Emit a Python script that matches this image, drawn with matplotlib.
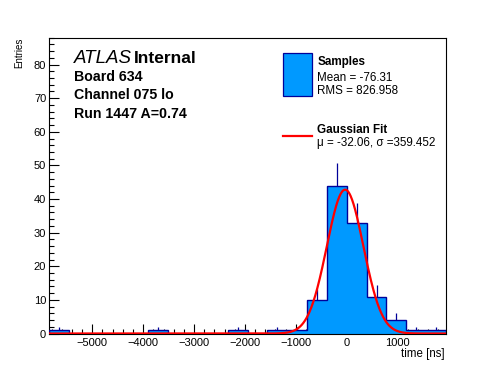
import numpy as np
import matplotlib
matplotlib.use("Agg")
import matplotlib.pyplot as plt
from matplotlib.ticker import MultipleLocator

plt.rcParams['font.family'] = ['Liberation Sans', 'DejaVu Sans']

# histogram: 20 bins of 390 ns from -5850 to 1950
bin_edges = np.arange(-5850, 1951, 390)
counts = [1, 0, 0, 0, 0, 1, 0, 0, 0, 1, 0, 1, 1, 10, 44, 33, 11, 4, 1, 1]

# gaussian fit parameters
fit_mu = -32.06
fit_sigma = 359.452
fit_amp = 42.8

W, H = 496, 372


def fx(px):
    return px / W


def fy(py):
    return 1 - py / H


fig = plt.figure(figsize=(W / 100, H / 100), dpi=100)
ax = fig.add_axes([fx(49), fy(333.5), fx(446) - fx(49), fy(37.7) - fy(333.5)])

counts = np.array(counts, dtype=float)
centers = 0.5 * (bin_edges[:-1] + bin_edges[1:])
nz = counts > 0
err = np.sqrt(counts)

fill_col = '#0099ff'
edge_col = '#000099'

ax.vlines(centers[nz], counts[nz] - err[nz], counts[nz] + err[nz],
          color=edge_col, lw=0.9, zorder=1)
ax.stairs(counts, bin_edges, fill=True, color=fill_col, zorder=2)
ax.stairs(counts, bin_edges, color=edge_col, lw=1.0, zorder=3)

xf = np.linspace(-5850, 1950, 800)
yf = fit_amp * np.exp(-0.5 * ((xf - fit_mu) / fit_sigma) ** 2)
ax.plot(xf, yf, color='red', lw=1.6, zorder=4)

ax.set_xlim(-5850, 1950)
ax.set_ylim(0, 88)
ax.xaxis.set_major_locator(MultipleLocator(1000))
ax.xaxis.set_minor_locator(MultipleLocator(200))
ax.yaxis.set_major_locator(MultipleLocator(10))
ax.yaxis.set_minor_locator(MultipleLocator(2))
ax.tick_params(which='both', direction='in', top=False, right=False,
               labelsize=8, width=0.8)
ax.tick_params(which='major', length=7)
ax.tick_params(which='minor', length=3.5)
ax.tick_params(axis='x', pad=3)
ax.tick_params(axis='y', pad=2)
ax.set_xticklabels([f"{int(v)}".replace('-', '\u2212') for v in ax.get_xticks()])
for s in ax.spines.values():
    s.set_linewidth(0.8)

fig.text(fx(445), fy(357), 'time [ns]', ha='right', va='baseline', fontsize=8.3)
fig.text(fx(19), fy(37.5), 'Entries', rotation=90, ha='center', va='top', fontsize=7)

# ATLAS label block
fig.text(fx(74), fy(63.3), 'ATLAS', style='italic', fontsize=13.5, va='baseline')
fig.text(fx(134), fy(63.3), 'Internal', weight='bold', fontsize=12.5, va='baseline')
fig.text(fx(74), fy(80.7), 'Board 634', weight='bold', fontsize=10.2, va='baseline')
fig.text(fx(74), fy(99.3), 'Channel 075 lo', weight='bold', fontsize=10.2, va='baseline')
fig.text(fx(74), fy(118.3), 'Run 1447 A=0.74', weight='bold', fontsize=10.2, va='baseline')

# legend
ax_f = fig.add_axes([0, 0, 1, 1], facecolor='none')
ax_f.set_xlim(0, W)
ax_f.set_ylim(H, 0)
ax_f.axis('off')
ax_f.add_patch(plt.Rectangle((283.3, 53.3), 28.4, 42.7, facecolor=fill_col,
                             edgecolor=edge_col, lw=0.9))
ax_f.plot([283.3, 311.7], [136, 136], color='red', lw=1.6)
fig.text(fx(317.3), fy(65), 'Samples', weight='bold', fontsize=8.4, va='baseline')
fig.text(fx(317.3), fy(80.7), 'Mean = -76.31', fontsize=8.4, va='baseline')
fig.text(fx(317.3), fy(94), 'RMS = 826.958', fontsize=8.4, va='baseline')
fig.text(fx(317.3), fy(133.3), 'Gaussian Fit', weight='bold', fontsize=8.4, va='baseline')
fig.text(fx(317.3), fy(146), '\u03bc = -32.06, \u03c3 =359.452', fontsize=8.4, va='baseline')

fig.savefig('out.png', dpi=100)
